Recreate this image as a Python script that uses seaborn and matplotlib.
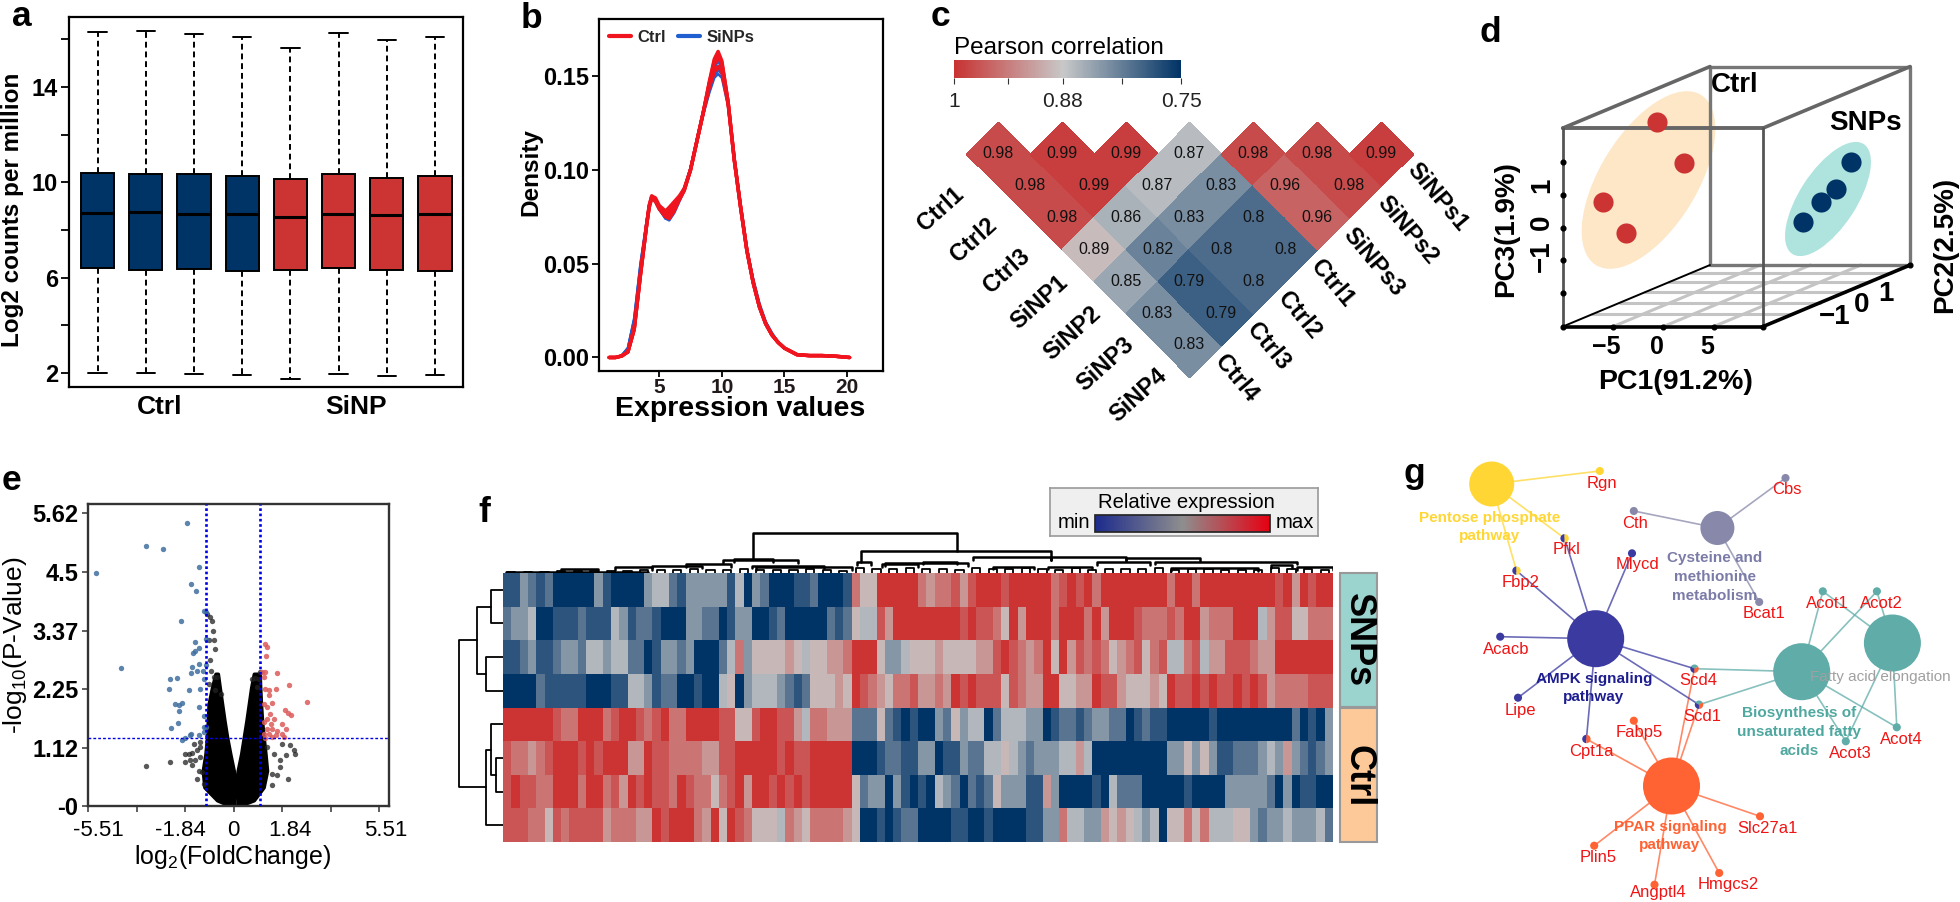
import matplotlib
matplotlib.use('Agg')
import matplotlib.pyplot as plt
import seaborn as sns
import pandas as pd
import numpy as np
from matplotlib.cm import ScalarMappable
from matplotlib.colors import LinearSegmentedColormap, Normalize
from matplotlib.lines import Line2D
from matplotlib.patches import Ellipse, Rectangle, Wedge
from matplotlib.transforms import Affine2D

W, H = 1960, 902
NAVY = '#003366'
RED = '#CC3333'

# --- panel a: box plot stats
box_samples = ['C1', 'C2', 'C3', 'C4', 'S1', 'S2', 'S3', 'S4']
box_groups = ['Ctrl', 'Ctrl', 'Ctrl', 'Ctrl', 'SiNP', 'SiNP', 'SiNP', 'SiNP']
box_low = [2.00, 2.01, 1.96, 1.92, 1.76, 1.97, 1.87, 1.93]
box_q1 = [6.39, 6.34, 6.35, 6.29, 6.31, 6.39, 6.32, 6.28]
box_med = [8.73, 8.74, 8.69, 8.66, 8.55, 8.69, 8.64, 8.67]
box_q3 = [10.39, 10.36, 10.35, 10.27, 10.13, 10.35, 10.20, 10.27]
box_high = [16.29, 16.35, 16.21, 16.08, 15.62, 16.25, 15.97, 16.11]

# --- panel b: density curves
curve_x = [1, 1.5, 2, 2.5, 3, 3.5, 4, 4.2, 4.4, 4.7, 5, 5.5, 5.8, 6.2, 6.6, 7, 7.5, 8, 8.5, 9, 9.4, 9.7, 10,
           10.5, 11, 11.5, 12, 12.5, 13, 13.5, 14, 14.5, 15, 16, 17, 18, 19, 20.2]
sinp_density = [
    [0, 0, .001, .005, .021, .050, .073, .081, .085, .083, .079, .074, .073, .077, .083, .089, .100, .115, .129, .141, .149, .151, .149, .134, .106, .081, .058, .042, .029, .019, .013, .008, .005, .0015, .001, .001, .0007, 0],
    [0, 0, .001, .005, .020, .049, .072, .081, .085, .083, .079, .074, .074, .078, .084, .090, .101, .116, .130, .142, .150, .153, .151, .135, .106, .081, .058, .041, .028, .019, .013, .008, .005, .0015, .001, .001, .0007, 0],
    [0, 0, .001, .005, .020, .049, .072, .081, .085, .083, .079, .075, .075, .079, .085, .090, .101, .116, .131, .145, .154, .158, .154, .136, .106, .080, .057, .041, .028, .018, .012, .008, .005, .0015, .001, .001, .0007, 0],
]
ctrl_density = [
    [0, 0, .0008, .003, .016, .045, .071, .080, .085, .083, .079, .075, .076, .080, .084, .089, .100, .115, .130, .144, .152, .155, .152, .135, .105, .080, .057, .040, .027, .018, .012, .008, .005, .0015, .001, .001, .0007, 0],
    [0, 0, .0008, .003, .015, .044, .071, .080, .085, .084, .080, .076, .078, .081, .085, .090, .100, .115, .130, .146, .156, .160, .156, .136, .105, .080, .057, .040, .027, .018, .012, .008, .005, .0015, .001, .001, .0007, 0],
    [0, 0, .0008, .003, .015, .044, .071, .081, .086, .085, .081, .078, .080, .083, .086, .090, .100, .115, .130, .146, .158, .162, .157, .136, .105, .080, .057, .040, .027, .018, .012, .008, .005, .0015, .001, .001, .0007, 0],
    [0, 0, .0008, .003, .015, .044, .071, .081, .086, .084, .080, .075, .074, .078, .084, .089, .100, .115, .130, .147, .159, .163, .158, .136, .105, .080, .057, .040, .027, .018, .012, .008, .005, .0015, .001, .001, .0007, 0],
]

# --- panel c: correlations, one list per diamond row from the top
corr_rows = [
    [.98, .99, .99, .87, .98, .98, .99],
    [.98, .99, .87, .83, .96, .98],
    [.98, .86, .83, .80, .96],
    [.89, .82, .80, .80],
    [.85, .79, .80],
    [.83, .79],
    [.83],
]
corr_left = ['Ctrl1', 'Ctrl2', 'Ctrl3', 'SiNP1', 'SiNP2', 'SiNP3', 'SiNP4']
corr_right = ['SiNPs1', 'SiNPs2', 'SiNPs3', 'Ctrl1', 'Ctrl2', 'Ctrl3', 'Ctrl4']

# --- panel d: PCA scores on the oblique projection
pca_ctrl_x = [-0.63, 2.06, -5.99, -3.73]
pca_ctrl_y = [3.24, 1.98, 0.79, -0.15]
pca_snp_x = [18.66, 17.17, 15.68, 13.88]
pca_snp_y = [2.01, 1.19, 0.79, 0.18]

# --- panel e: volcano
down_fc = [-1.75, -3.30, -2.67, -5.20, -1.31, -1.60, -1.41, -1.13, -1.03, -2.00, -1.45, -1.05, -1.30, -1.45, -1.54,
           -4.28, -1.58, -1.30, -1.06, -1.60, -1.39, -1.16, -2.42, -2.16, -1.11, -2.46, -1.68, -1.27, -2.23, -2.08,
           -1.95, -2.08, -1.30, -1.11, -2.10, -2.37, -1.13, -1.03, -1.60, -1.30, -1.95, -1.83, -1.64, -1.13]
down_p = [5.43, 5.00, 4.93, 4.48, 4.59, 4.27, 4.13, 3.74, 3.72, 3.55, 3.15, 3.20, 3.04, 2.98, 2.93,
          2.65, 2.67, 2.73, 2.70, 2.56, 2.59, 2.59, 2.44, 2.46, 2.44, 2.24, 2.22, 2.24, 1.96, 1.94,
          1.98, 1.83, 1.90, 1.73, 1.60, 1.50, 1.52, 1.52, 1.39, 1.36, 1.26, 1.31, 1.36, 1.42]
up_fc = [1.20, 1.26, 1.23, 1.07, 1.20, 1.13, 1.64, 2.08, 1.20, 1.32, 1.60, 1.32, 2.77, 1.13, 1.45, 1.26, 1.93, 2.04,
         2.18, 1.36, 1.26, 1.51, 1.13, 1.39, 1.83, 1.26, 1.45, 1.99, 1.64, 1.13, 1.32, 1.58, 1.83, 1.20, 1.45, 1.89]
up_p = [3.12, 3.05, 2.89, 2.58, 2.57, 2.48, 2.56, 2.32, 2.25, 2.23, 2.24, 2.14, 2.00, 1.96, 1.98, 1.91, 1.84, 1.79,
        1.75, 1.77, 1.68, 1.68, 1.61, 1.58, 1.58, 1.48, 1.48, 1.48, 1.45, 1.39, 1.39, 1.36, 1.39, 1.31, 1.32, 1.32]
ns_fc = [-3.30, -2.42, 2.04, 2.33, 2.27, 2.14, 1.99, 1.76, 1.74, 1.45, 1.64, 1.45, 1.83, 1.51, 1.26,
         -1.83, -1.70, -1.58, -1.83, -1.64, -1.45, -1.51, -1.26, -1.39, -1.26, -1.39, -1.20, -1.13, -1.32, -1.58, -1.26,
         -.88, -.78, -.76, -.72, -.88, -.86, -.63, -.76, -.69, -.95, -.95, -.82, -1.01, -.50, .69, .82, .95, .88, .98]
ns_p = [.77, .84, .51, .99, 1.08, 1.18, .97, .88, .75, .40, .59, .62, 1.20, 1.00, 1.13,
        1.00, 1.00, 1.02, .84, .88, .88, 1.20, 1.23, 1.07, .94, .52, .65, .43, .68, .78, 1.13,
        3.63, 3.37, 3.18, 3.01, 2.80, 2.60, 2.48, 2.48, 2.22, 2.35, 3.18, 3.56, 3.69, 2.16, 2.44, 2.46, 2.44, 2.28, 2.57]
# outline of the solid black mass of points
mass_p = [0, .11, .36, .68, 1.00, 1.32, 1.64, 1.96, 2.28, 2.54]
mass_left_outer = [-.13, -.63, -1.11, -1.17, -1.07, -1.01, -.98, -.95, -.82, -.69]
mass_left_inner = [0, .03, .03, 0, -.13, -.25, -.35, -.44, -.53, -.60]
mass_right_inner = [.13, .15, .06, .15, .28, .38, .48, .57, .66, .76]
mass_right_outer = [.19, .76, 1.13, 1.26, 1.20, 1.13, 1.07, 1.03, 1.00, .98]

# --- panel f: expression levels 0 (navy) .. 9 (red), one string per row, one digit per column
heat_rows = [
    "113212000003100003442133333140320001120001" + "75599999" + "76778689998999997898979999999979979999999998969899",
    "233400111211143122100033220133001200000212" + "54486999" + "99999898875969997999796999877787996777999468855777",
    "112311233244344220133230002473555565455667" + "99953345" + "55655556689876795968787567857844784668887669999999",
    "000021111100011443122001004503444321255565" + "98765778" + "66769898885876699556698865556598898988989867777888",
    "999999877999789987897799998855899886477666" + "22252101" + "00325344024443301221233220121100000100000000020103",
    "877678999898999669887777668899999898899999" + "00012211" + "33011322445432333446400000000033535311222343632123",
    "898877999799786989887987757896998989899999" + "52330310" + "10432021253331163000010422200000100003333320301100",
    "888775878888677766989997695987555476577776" + "50010122" + "00001100100001133744336565434055757444553233433342",
]
# small brackets over neighbouring columns, then the wider spans (start, end, height)
col_pair_heights = [1, 1.5, 1.5, 2, 2, 2, 2.5, 2.5, 3, 3, 3, 4, 3, 3, 4, 3, 3, 3, 4, 3, 2,
                    5, 4, 4, 5, 4, 4, 3, 5, 4, 4, 5, 4, 3, 5, 3, 4, 4, 4, 5, 3, 4, 4, 3, 3, 3, 5, 4, 4, 3]
col_spans = [(0.4, 17.5, 1.3), (7, 11.5, 4.3), (13.5, 18, 5.7), (18, 24, 7.3), (22, 27.5, 8.7), (26.5, 35.5, 13),
             (27.8, 32.5, 14), (30, 38.7, 7.3), (30.5, 42, 5.7), (42.7, 44.3, 11), (45.7, 50, 8.7), (46, 56, 10),
             (50.6, 54.7, 11.4), (56.6, 66, 15.7), (66, 75, 15.7), (75, 84, 14.7), (71.6, 78, 10.7), (78.6, 95.7, 11.5),
             (80.5, 91, 5), (92.5, 95, 8), (95.7, 100, 6), (65.7, 71, 6.3), (59, 64, 6.3)]
col_top_spans = [(43.1, 66, 22, 11, 13), (30.1, 54.7, 40, 15, 22)]
# row dendrogram merges: y a, dist a, y b, dist b, merge dist
row_merges = [(0.5, 0, 1.5, 0, 12), (2.5, 0, 3.5, 0, 17), (1, 12, 3, 17, 26), (5.5, 0, 6.5, 0, 7.5),
              (4.5, 0, 6, 7.5, 12), (5.25, 12, 7.5, 0, 17), (2, 26, 6.37, 17, 44.5)]

# --- panel g: network
hub_names = ['Pentose', 'Cysteine', 'AMPK', 'BiosynA', 'BiosynB', 'PPAR']
hub_x = [1491.7, 1717.4, 1595.7, 1801.7, 1892.4, 1671.5]
hub_y = [484, 528, 638.7, 671.7, 643, 786]
hub_radius = [22.5, 17, 28.5, 28.5, 28.5, 28.5]
hub_colors = ['#FFD633', '#8888AA', '#3A3AA0', '#5FACA8', '#5FACA8', '#FF6233']
gene_names = ['Rgn', 'Cbs', 'Cth', 'Pfkl', 'Mlycd', 'Fbp2', 'Bcat1', 'Acacb', 'Lipe', 'Scd4', 'Scd1', 'Fabp5', 'Cpt1a',
              'Plin5', 'Angptl4', 'Hmgcs2', 'Slc27a1', 'Acot1', 'Acot2', 'Acot3', 'Acot4']
gene_x = [1599.8, 1785.5, 1633.8, 1564.6, 1632, 1516.5, 1759.2, 1500.2, 1518, 1694.5, 1699, 1633.8, 1586.4,
          1594.2, 1654.5, 1719.2, 1760, 1822.8, 1876.9, 1845.8, 1896.8]
gene_y = [471, 478, 511, 538.3, 553.3, 570.7, 602, 636.7, 697.7, 668.7, 704.7, 720.7, 739,
          845.7, 884.7, 873, 816.3, 591.3, 591.3, 741.3, 727.3]
gene_links = [[0], [1], [1], [2, 0], [2], [2, 0], [1], [2], [2], [2, 3, 5], [2, 3, 5], [5], [2, 5],
              [5], [5], [5], [5], [3, 4], [3, 4], [3, 4], [3, 4]]
gene_label_x = [1602, 1787, 1635, 1566.5, 1637, 1520.6, 1763.6, 1506, 1520.6, 1698, 1702, 1639.7, 1591,
                1598.3, 1658, 1727.8, 1767.7, 1827, 1881, 1850.6, 1901.6]
gene_label_y = [483.3, 490, 523, 550, 565, 582.7, 614, 649, 710, 680.7, 716.7, 732.7, 751.7,
                858, 893, 885, 828.3, 603, 603, 753, 739]

sns.set_theme(style='ticks')
plt.rcParams['font.family'] = ['Liberation Sans', 'DejaVu Sans']
plt.rcParams['mathtext.default'] = 'regular'

fig = plt.figure(figsize=(W / 100, H / 100), dpi=100)
px_tr = Affine2D().scale(1, -1).translate(0, H)


def add_ax(x0, y0, x1, y1):
    return fig.add_axes([x0 / W, 1 - y1 / H, (x1 - x0) / W, (y1 - y0) / H])


def heavy_spines(ax, width, color='black'):
    for spine in ax.spines.values():
        spine.set_visible(True)
        spine.set_linewidth(width)
        spine.set_color(color)


# panel a
long_rows = []
for i, name in enumerate(box_samples):
    for stat in (box_low, box_q1, box_med, box_q3, box_high):
        long_rows.append({'sample': name, 'group': box_groups[i], 'value': stat[i]})
box_df = pd.DataFrame(long_rows)
ax_a = add_ax(69, 17, 463, 387)
sns.boxplot(data=box_df, x='sample', y='value', hue='group', palette={'Ctrl': NAVY, 'SiNP': RED}, dodge=False,
            whis=(0, 100), width=0.69, saturation=1, linecolor='black', linewidth=1.4, capwidths=0.38,
            whiskerprops={'linestyle': (0, (3, 2))}, medianprops={'linewidth': 2.2}, legend=False, ax=ax_a)
ax_a.set_xlim(-0.593, 7.58)
ax_a.set_ylim(1.41, 16.94)
ax_a.set_yticks(range(2, 17, 2))
ax_a.set_yticklabels(['2', '', '6', '', '10', '', '14', ''], fontsize=17, fontweight='bold')
ax_a.set_xticks([])
ax_a.set_xlabel('')
ax_a.set_ylabel('')
ax_a.tick_params(axis='y', length=6, width=1.3, color='black', labelcolor='black', pad=2)
heavy_spines(ax_a, 1.6)

# panel b
ax_b = add_ax(598.5, 19, 883, 371)
for series in sinp_density:
    sns.lineplot(x=curve_x, y=series, color='#1F5FD0', linewidth=1.8, estimator=None, ax=ax_b)
for series in ctrl_density:
    sns.lineplot(x=curve_x, y=series, color='#F0141E', linewidth=2.5, estimator=None, ax=ax_b)
ax_b.set_xlim(0.15, 22.87)
ax_b.set_ylim(-0.0072, 0.1803)
ax_b.set_xticks([5, 10, 15, 20])
ax_b.set_yticks([0, 0.05, 0.10, 0.15])
ax_b.set_yticklabels(['0.00', '0.05', '0.10', '0.15'], fontsize=17, fontweight='bold')
ax_b.set_xticklabels(['5', '10', '15', '20'], fontsize=15, fontweight='bold')
ax_b.tick_params(axis='y', length=5, width=1.3, color='black', labelcolor='black', pad=2)
ax_b.tick_params(axis='x', length=4, width=1.3, color='black', labelcolor='#221A1A', pad=1)
heavy_spines(ax_b, 1.6)
ax_b.legend(handles=[Line2D([], [], color='#F0141E', lw=3), Line2D([], [], color='#1F5FD0', lw=3)],
            labels=['Ctrl', 'SiNPs'], ncol=2, frameon=False, loc='upper left', handlelength=1.3, handletextpad=0.4,
            columnspacing=0.7, borderaxespad=0.25, prop={'size': 12, 'weight': 'bold'})

# panel c: heatmap turned by 45 degrees, cell size s
corr_cmap = LinearSegmentedColormap.from_list('corr', [(0, NAVY), (0.52, '#C8C8C8'), (1, '#C83232')])
corr_mat = np.full((7, 7), np.nan)
for r, row in enumerate(corr_rows):
    for k, val in enumerate(row):
        corr_mat[r + k, k] = val
ax_c = add_ax(960, 120, 1400, 380)
sns.heatmap(corr_mat, cmap=corr_cmap, vmin=0.75, vmax=1, annot=True, fmt='g', cbar=False, xticklabels=False,
            yticklabels=False, annot_kws={'size': 11.5, 'color': '#111111'}, ax=ax_c)
s, x0, y0 = 31.9, 998.0, 153.5
cell_tr = Affine2D.from_values(s, s, s, -s, x0 - s, H - y0)
mesh = ax_c.collections[0]
mesh.set_transform(cell_tr)
mesh.set_clip_on(False)
mesh.set_antialiased(True)
mesh.set_edgecolor('face')
mesh.set_linewidth(0.4)
for t in ax_c.texts:
    t.set_transform(cell_tr)
    t.set_clip_on(False)
ax_c.axis('off')

cax = add_ax(954, 60, 1181, 78)
cb = fig.colorbar(ScalarMappable(Normalize(0.75, 1), corr_cmap), cax=cax, orientation='horizontal')
cax.invert_xaxis()
cb.set_ticks([1, 0.88, 0.75])
cb.set_ticklabels(['1', '0.88', '0.75'])
cb.ax.set_xticks([0.94, 0.815], minor=True)
cax.tick_params(which='both', length=4, width=0.8, labelsize=15, color='#333333', labelcolor='#222222', pad=6)
cb.outline.set_visible(False)

# panel d: box frame on PC units, 10.06 px per PC1 and 32.75 px per PC3
ax_d = add_ax(1540, 60, 1930, 340)
ax_d.set_xlim((1540 - 1663.3) / 10.06, (1930 - 1663.3) / 10.06)
ax_d.set_ylim((227.7 - 340) / 32.75, (227.7 - 60) / 32.75)
ax_d.axis('off')
ax_d.add_patch(Ellipse((1648.5, 180), 200, 97, angle=-58.3, transform=px_tr, color='#FDE7C7', lw=0, zorder=1))
ax_d.add_patch(Ellipse((1828, 199), 131, 57, angle=-57, transform=px_tr, color='#AEE3DE', lw=0, zorder=1))
xa, xb, za, zb, dx, dz = -10, 9.9, -3.02, 3.04, 14.64, 1.88
for frac in [0.2, 0.39, 0.56, 0.72, 0.87]:
    ax_d.plot([xa + dx * frac, xb + dx * frac], [za + dz * frac, za + dz * frac], color='#C4C4C4', lw=2.2, zorder=2)
for tick in [-5, 0, 5]:
    ax_d.plot([tick, tick + dx], [za, za + dz], color='#C4C4C4', lw=2.2, zorder=2)
grey = '#666666'
ax_d.plot([xa + dx, xb + dx, xb + dx, xa + dx, xa + dx], [zb + dz, zb + dz, za + dz, za + dz, zb + dz],
          color='#777777', lw=2.4, zorder=3)
ax_d.plot([xa, xa + dx], [zb, zb + dz], color=grey, lw=2.6, zorder=3)
ax_d.plot([xb, xb + dx], [zb, zb + dz], color=grey, lw=2.6, zorder=3)
ax_d.plot([xa, xb], [zb, zb], color=grey, lw=2.8, zorder=3)
ax_d.plot([xa, xa], [za, zb], color='#555555', lw=2, zorder=3)
ax_d.plot([xb, xb], [za, zb], color='#555555', lw=2, zorder=3)
ax_d.plot([xa, xa + dx], [za, za + dz], color='black', lw=1.4, zorder=3)
ax_d.plot([xa, xb], [za, za], color='black', lw=2.6, zorder=3)
ax_d.plot([xb, xb + dx], [za, za + dz], color='black', lw=2.6, zorder=3)
ax_d.plot([-5, 0, 5, xa, xb, xb + dx], [za] * 5 + [za + dz], ls='', marker='o', ms=3.4, color='black', zorder=4)
ax_d.plot([xa] * 5, [2, 1, 0, -1, -2], ls='', marker='o', ms=3.4, color='black', zorder=4)
sns.scatterplot(x=pca_ctrl_x, y=pca_ctrl_y, color=RED, s=210, linewidth=0, zorder=5, ax=ax_d)
sns.scatterplot(x=pca_snp_x, y=pca_snp_y, color=NAVY, s=210, linewidth=0, zorder=5, ax=ax_d)

# panel e
ax_e = add_ax(88, 504, 389, 806)
ax_e.fill_betweenx(mass_p, mass_left_outer, mass_left_inner, color='black', lw=2.5, zorder=2)
ax_e.fill_betweenx(mass_p, mass_right_inner, mass_right_outer, color='black', lw=2.5, zorder=2)
sns.scatterplot(x=ns_fc, y=ns_p, color='#222222', alpha=0.75, s=15, linewidth=0, zorder=2, ax=ax_e)
sns.scatterplot(x=down_fc, y=down_p, color='#3F6F9F', alpha=0.85, s=15, linewidth=0, zorder=3, ax=ax_e)
sns.scatterplot(x=up_fc, y=up_p, color='#DC5A5A', alpha=0.85, s=15, linewidth=0, zorder=3, ax=ax_e)
ax_e.axvline(-1.03, color='#0000E6', lw=1.9, ls=(0, (1, 1)), zorder=4)
ax_e.axvline(0.98, color='#0000E6', lw=1.9, ls=(0, (1, 1)), zorder=4)
ax_e.axhline(1.3, color='#0000E6', lw=1.0, ls=(0, (2, 1.5)), zorder=4)
ax_e.set_xlim(-5.51, 5.87)
ax_e.set_ylim(0, 5.8)
ax_e.set_xticks([-5.51, -3.67, -1.84, 0, 1.84, 3.67, 5.51])
ax_e.set_xticklabels([])
ax_e.set_yticks([0, 1.12, 2.25, 3.37, 4.5, 5.62])
ax_e.set_yticklabels(['-0', '1.12', '2.25', '3.37', '4.5', '5.62'], fontsize=17, fontweight='bold')
ax_e.tick_params(length=4, width=1.1, color='#333333', labelcolor='black', pad=3)
heavy_spines(ax_e, 1.7, '#333333')

# panel f
heat_values = np.array([[int(ch) for ch in row] for row in heat_rows])
heat_cmap = LinearSegmentedColormap.from_list('expr', [(0, NAVY), (0.5, '#C8C8C8'), (1, RED)])
ax_f = add_ax(503, 573, 1333, 842)
sns.heatmap(heat_values, cmap=heat_cmap, vmin=0, vmax=9, cbar=False, xticklabels=False, yticklabels=False, ax=ax_f)

ax_top = add_ax(503, 525, 1333, 573)
ax_top.set_xlim(0, 100)
ax_top.set_ylim(0, 48)
ax_top.axis('off')
for i, h in enumerate(col_pair_heights):
    ax_top.plot([2 * i + 0.5, 2 * i + 0.5, 2 * i + 1.5, 2 * i + 1.5], [0, h, h, 0], color='black', lw=1.3)
for a, b, h in col_spans:
    ax_top.plot([a, a, b, b], [h - 2.5, h, h, h - 2.5], color='black', lw=1.8)
for a, b, h, ha_drop, hb_drop in col_top_spans:
    ax_top.plot([a, a, b, b], [ha_drop, h, h, hb_drop], color='black', lw=1.8)

ax_side = add_ax(455, 573, 503, 842)
ax_side.set_xlim(48, 0)
ax_side.set_ylim(8, 0)
ax_side.axis('off')
for ya, da, yb, db, dm in row_merges:
    ax_side.plot([da, dm, dm, db], [ya, ya, yb, yb], color='black', lw=1.3)

key_box = add_ax(1050, 488, 1318, 536)
key_box.set_facecolor('#EFEFEF')
key_box.set_xticks([])
key_box.set_yticks([])
heavy_spines(key_box, 1.2, '#999999')
key_bar = add_ax(1095, 515, 1270, 532)
key_cmap = LinearSegmentedColormap.from_list('key', ['#1C2B8C', '#8E8E8E', '#E60012'])
fig.colorbar(ScalarMappable(Normalize(0, 1), key_cmap), cax=key_bar, orientation='horizontal')
key_bar.set_xticks([])

# panel g
ax_g = add_ax(1380, 450, 1960, 902)
ax_g.set_xlim(1380, 1960)
ax_g.set_ylim(902, 450)
ax_g.axis('off')
for gx, gy, links in zip(gene_x, gene_y, gene_links):
    for hub in links:
        ax_g.plot([gx, hub_x[hub]], [gy, hub_y[hub]], color=hub_colors[hub], lw=1.2, alpha=0.75, zorder=1)
sns.scatterplot(x=hub_x, y=hub_y, hue=hub_names, palette=dict(zip(hub_names, hub_colors)),
                s=[(2 * r * 0.72) ** 2 for r in hub_radius], linewidth=0, legend=False, zorder=2, ax=ax_g)
# genes on hubs of one colour get a plain dot, the others a small pie
single = [i for i, links in enumerate(gene_links) if len({hub_colors[h] for h in links}) == 1]
sns.scatterplot(x=[gene_x[i] for i in single], y=[gene_y[i] for i in single],
                hue=[gene_names[i] for i in single],
                palette={gene_names[i]: hub_colors[gene_links[i][0]] for i in single},
                s=34, linewidth=0, legend=False, zorder=3, ax=ax_g)
for i, links in enumerate(gene_links):
    if i in single:
        continue
    step = 360 / len(links)
    for j, hub in enumerate(links):
        ax_g.add_patch(Wedge((gene_x[i], gene_y[i]), 4.2, 90 + j * step, 90 + (j + 1) * step,
                             color=hub_colors[hub], lw=0, zorder=3))

# overlay in figure pixels for labels
ax_px = add_ax(0, 0, W, H)
ax_px.set_xlim(0, W)
ax_px.set_ylim(H, 0)
ax_px.axis('off')


def label(x, y, text, size, weight='normal', color='black', rot=0, ha='center', va='center', **kw):
    ax_px.text(x, y, text, fontsize=size, fontweight=weight, color=color, rotation=rot, ha=ha, va=va,
               rotation_mode='anchor', **kw)


# panel letters
for letter, x, y in [('a', 22, 26), ('b', 531, 28), ('c', 940, 26), ('d', 1490, 42), ('e', 11, 490), ('f', 484, 522),
                     ('g', 1414, 483)]:
    label(x, y, letter, 25.5, 'bold', va='baseline')

label(13, 210, 'Log2 counts per million', 17.5, 'bold', rot=90)
label(160, 407, 'Ctrl', 19, 'bold')
label(356, 407, 'SiNP', 19, 'bold')
label(531, 172, 'Density', 17.5, 'bold', rot=90)
label(740, 409, 'Expression values', 20.5, 'bold')

label(954, 48, 'Pearson correlation', 17.5, ha='left')
for L, name in enumerate(corr_left):
    label(941 + 32.8 * L, 209 + 31 * L, name, 17, 'bold', rot=42)
right_cx = [1437.5, 1407, 1373, 1332.7, 1299, 1268.5, 1236]
right_cy = [196.7, 230, 261.7, 283.3, 315, 346.7, 378.3]
for name, x, y in zip(corr_right, right_cx, right_cy):
    label(x, y, name, 17, 'bold', rot=-50)

label(1735, 85, 'Ctrl', 20, 'bold')
label(1865, 123, 'SNPs', 20, 'bold')
label(1676, 382, 'PC1(91.2%)', 20.5, 'bold')
label(1506, 229, 'PC3(1.9%)', 20, 'bold', rot=90)
label(1945, 245, 'PC2(2.5%)', 20, 'bold', rot=90)
for x, text in [(1606, '\u22125'), (1657, '0'), (1707, '5')]:
    label(x, 347, text, 18, 'bold')
for y, text in [(185, '1'), (222, '0'), (256, '\u22121')]:
    label(1542, y, text, 20, 'bold', rot=90)
for x, y, text in [(1835, 317, '\u22121'), (1862, 305, '0'), (1886, 294, '1')]:
    label(x, y, text, 20, 'bold')

for x, text in [(98, '-5.51'), (180, '-1.84'), (233, '0'), (290, '1.84'), (386, '5.51')]:
    label(x, 830, text, 16)
label(233, 857, 'log$_{2}$(FoldChange)', 18)
label(15, 645, '-log$_{10}$(P-Value)', 19, rot=90)

ax_px.add_patch(Rectangle((1340, 573), 37, 134, facecolor='#9BD3CF', edgecolor='#999999', lw=1.5))
ax_px.add_patch(Rectangle((1340, 708), 37, 134, facecolor='#FDC998', edgecolor='#999999', lw=1.5))
label(1358, 640, 'SNPs', 26, 'bold', rot=-90)
label(1358, 776, 'Ctrl', 26, 'bold', rot=-90)
label(1186, 502, 'Relative expression', 14.6)
label(1074, 523, 'min', 14.6)
label(1295, 523, 'max', 14.6)

for name, x, y in zip(gene_names, gene_label_x, gene_label_y):
    label(x, y, name, 12, color='#F01414')
for text, x, y, color in [('Pentose phosphate\npathway', 1490, 527, '#FFD633'),
                          ('Cysteine and\nmethionine\nmetabolism', 1715, 577, '#7B7BA8'),
                          ('AMPK signaling\npathway', 1594, 688, '#1E1E90'),
                          ('Biosynthesis of\nunsaturated fatty\nacids', 1799, 732, '#4FA8A0'),
                          ('PPAR signaling\npathway', 1670, 836, '#FF6233')]:
    label(x, y, text, 11, 'bold', color=color, linespacing=1.45)
label(1880, 677, 'Fatty acid elongation', 11, color='#A0A0A0')

fig.savefig('out.png', dpi=100)
plt.close(fig)
